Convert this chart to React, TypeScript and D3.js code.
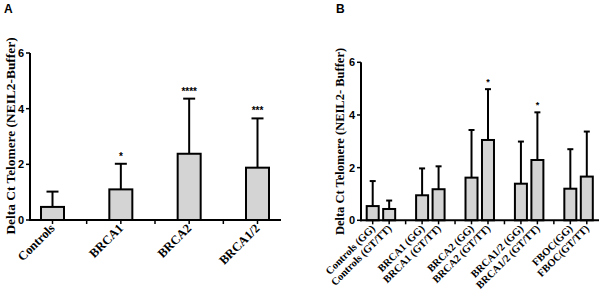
import React from "react";
import * as d3 from "d3";

// Panel A data
const catsA = ["Controls", "", "BRCA1", "", "BRCA2", "", "BRCA1/2"];
const meanA = [0.47, null, 1.1, null, 2.38, null, 1.88];
const errA = [1.02, null, 2.02, null, 4.36, null, 3.65];
const starsA = ["", "", "*", "", "****", "", "***"];

// Panel B data
const catsB = [
  "Controls (GG)", "Controls (GT/TT)", "",
  "BRCA1 (GG)", "BRCA1 (GT/TT)", "",
  "BRCA2 (GG)", "BRCA2 (GT/TT)", "",
  "BRCA1/2 (GG)", "BRCA1/2 (GT/TT)", "",
  "FBOC(GG)", "FBOC(GT/TT)",
];
const meanB = [0.54, 0.43, null, 0.95, 1.18, null, 1.62, 3.05, null, 1.39, 2.29, null, 1.2, 1.66];
const errB = [1.49, 0.75, null, 1.97, 2.05, null, 3.43, 4.98, null, 2.99, 4.1, null, 2.7, 3.37];
const starsB = ["", "", "", "", "", "", "", "*", "", "", "*", "", "", ""];

const yTicks = [0, 2, 4, 6];

const SERIF = "'Liberation Serif', 'Times New Roman', serif";
const SANS = "'Liberation Sans', Arial, sans-serif";

type PanelProps = {
  cats: string[];
  means: (number | null)[];
  errs: (number | null)[];
  stars: string[];
  axisX0: number;
  axisX1: number;
  xFirst: number;
  xLast: number;
  y0: number;
  y6: number;
  barW: number;
  capW: number;
  yLabel: string;
  yLabelX: number;
  yLabelY: number;
  yLabelSize: number;
  letter: string;
  letterX: number;
  xLabelSize: number;
  starSize: number;
};

function Panel(p: PanelProps) {
  const x = d3.scalePoint<number>().domain(d3.range(p.cats.length)).range([p.xFirst, p.xLast]);
  const y = d3.scaleLinear().domain([0, 6]).range([p.y0, p.y6]);
  return (
    <g>
      <text x={p.letterX} y={13} fill="#000" fontFamily={SANS} fontWeight="bold" fontSize={12}>{p.letter}</text>
      {/* y axis */}
      <line x1={p.axisX0} x2={p.axisX0} y1={y(6)} y2={y(0) + 1} stroke="#000" strokeWidth={2} />
      {yTicks.map((t) => (
        <g key={t}>
          <line x1={p.axisX0 - 4} x2={p.axisX0} y1={y(t)} y2={y(t)} stroke="#000" strokeWidth={1.5} />
          <text x={p.axisX0 - 6} y={y(t)} dy="0.36em" textAnchor="end" fill="#000" fontFamily={SANS} fontWeight="bold" fontSize={11}>{t}</text>
        </g>
      ))}
      <text
        transform={`translate(${p.yLabelX},${p.yLabelY}) rotate(-90)`}
        textAnchor="middle"
        fill="#000"
        fontFamily={SERIF}
        fontWeight="bold"
        fontSize={p.yLabelSize}
      >{p.yLabel}</text>
      {/* bars */}
      {p.means.map((m, i) => {
        if (m === null) return null;
        const cx = x(i)!;
        const e = p.errs[i]!;
        return (
          <g key={i}>
            <line x1={cx} x2={cx} y1={y(m)} y2={y(e)} stroke="#000" strokeWidth={2} />
            <line x1={cx - p.capW / 2} x2={cx + p.capW / 2} y1={y(e)} y2={y(e)} stroke="#000" strokeWidth={2} />
            <rect x={cx - p.barW / 2} y={y(m)} width={p.barW} height={y(0) - y(m)} fill="#d4d4d4" stroke="#000" strokeWidth={2} />
            {p.stars[i] && (
              <text x={cx} y={y(e) - 4} textAnchor="middle" fill="#000" fontFamily={SANS} fontWeight="bold" fontSize={p.starSize}>{p.stars[i]}</text>
            )}
          </g>
        );
      })}
      {/* x axis */}
      <line x1={p.axisX0 - 1} x2={p.axisX1} y1={y(0)} y2={y(0)} stroke="#000" strokeWidth={2} />
      {p.cats.map((c, i) => (
        <line key={i} x1={x(i)!} x2={x(i)!} y1={y(0)} y2={y(0) + 4} stroke="#000" strokeWidth={1.5} />
      ))}
      {p.cats.map((c, i) =>
        c ? (
          <text
            key={i}
            transform={`translate(${x(i)! + 3},${y(0) + 9}) rotate(-45)`}
            textAnchor="end"
            fill="#000"
            fontFamily={SERIF}
            fontWeight="bold"
            fontSize={p.xLabelSize}
          >{c}</text>
        ) : null
      )}
    </g>
  );
}

export default function App() {
  return (
    <svg width={600} height={297} style={{ position: "absolute", left: 0, top: 0, background: "#fff" }}>
      <rect width={600} height={297} fill="#fff" />
      <Panel
        cats={catsA}
        means={meanA}
        errs={errA}
        stars={starsA}
        axisX0={30}
        axisX1={281}
        xFirst={52.5}
        xLast={257.5}
        y0={220}
        y6={53}
        barW={23}
        capW={12}
        yLabel="Delta Ct Telomere (NEIL2-Buffer)"
        yLabelX={15}
        yLabelY={136}
        yLabelSize={13.4}
        letter="A"
        letterX={4}
        xLabelSize={12.5}
        starSize={10}
      />
      <Panel
        cats={catsB}
        means={meanB}
        errs={errB}
        stars={starsB}
        axisX0={361}
        axisX1={599}
        xFirst={372.7}
        xLast={586.8}
        y0={220.3}
        y6={62.3}
        barW={12}
        capW={6}
        yLabel="Delta Ct Telomere (NEIL2- Buffer)"
        yLabelX={344}
        yLabelY={141.5}
        yLabelSize={12.5}
        letter="B"
        letterX={336}
        xLabelSize={10.5}
        starSize={9}
      />
    </svg>
  );
}
